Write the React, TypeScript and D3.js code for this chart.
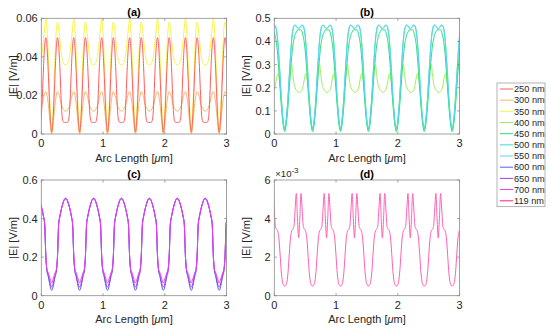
import * as d3 from 'd3';
import React from 'react';

// pattern repeats along the arc; values read over one period,
// 24 samples starting at a deep trough
const period = 0.452;
const firstTrough = 0.168;
const samplesPerPeriod = 24;

const arcTicks = [0, 1, 2, 3];

// (a)
const e250 = [0.001, 0.006, 0.018, 0.033, 0.045, 0.05, 0.046, 0.035, 0.02, 0.009, 0.0063, 0.006,
  0.006, 0.006, 0.0063, 0.009, 0.02, 0.035, 0.046, 0.05, 0.045, 0.033, 0.018, 0.006];
const e300 = [0.0, 0.004, 0.01, 0.016, 0.02, 0.022, 0.021, 0.019, 0.016, 0.014, 0.013, 0.012,
  0.012, 0.012, 0.013, 0.014, 0.016, 0.019, 0.021, 0.022, 0.02, 0.016, 0.01, 0.004];
const e350 = [0.001, 0.008, 0.024, 0.042, 0.054, 0.058, 0.055, 0.049, 0.043, 0.039, 0.037, 0.036,
  0.036, 0.036, 0.037, 0.039, 0.043, 0.049, 0.055, 0.06, 0.054, 0.042, 0.024, 0.008];
// (b)
const e400 = [0.02, 0.05, 0.1, 0.17, 0.24, 0.29, 0.3, 0.26, 0.22, 0.2, 0.19, 0.185,
  0.18, 0.18, 0.185, 0.19, 0.21, 0.24, 0.26, 0.25, 0.21, 0.15, 0.09, 0.04];
const e450 = [0.01, 0.03, 0.07, 0.13, 0.2, 0.27, 0.33, 0.38, 0.41, 0.43, 0.44, 0.45,
  0.45, 0.45, 0.45, 0.44, 0.42, 0.39, 0.34, 0.27, 0.2, 0.13, 0.07, 0.03];
const e500 = [0.02, 0.04, 0.09, 0.16, 0.25, 0.33, 0.4, 0.445, 0.465, 0.47, 0.465, 0.458,
  0.455, 0.458, 0.465, 0.47, 0.465, 0.445, 0.4, 0.33, 0.25, 0.16, 0.09, 0.04];
const e550 = [0.025, 0.045, 0.1, 0.17, 0.26, 0.34, 0.41, 0.45, 0.468, 0.472, 0.468, 0.46,
  0.457, 0.46, 0.468, 0.472, 0.468, 0.45, 0.41, 0.34, 0.26, 0.17, 0.1, 0.045];
// (c)
const e600 = [0.028, 0.04, 0.07, 0.1, 0.125, 0.2, 0.37, 0.41, 0.44, 0.465, 0.485, 0.5,
  0.505, 0.5, 0.485, 0.465, 0.44, 0.41, 0.37, 0.2, 0.125, 0.1, 0.07, 0.04];
const e650 = [0.045, 0.055, 0.08, 0.11, 0.13, 0.2, 0.37, 0.41, 0.44, 0.465, 0.485, 0.5,
  0.505, 0.5, 0.485, 0.465, 0.44, 0.41, 0.37, 0.2, 0.13, 0.11, 0.08, 0.055];
const e700 = [0.065, 0.08, 0.1, 0.12, 0.135, 0.21, 0.37, 0.41, 0.44, 0.465, 0.485, 0.5,
  0.5, 0.5, 0.485, 0.465, 0.44, 0.41, 0.37, 0.21, 0.135, 0.12, 0.1, 0.08];
// (d), in units of 1e-3
const e119 = [0.5, 0.55, 0.75, 1.3, 2.2, 3.0, 3.35, 3.45, 3.6, 4.5, 5.3, 4.0,
  3.0, 4.0, 5.3, 4.5, 3.6, 3.45, 3.35, 3.0, 2.2, 1.3, 0.75, 0.55];

const legendNames = ['250 nm', '300 nm', '350 nm', '400 nm', '450 nm', '500 nm',
  '550 nm', '600 nm', '650 nm', '700 nm', '119 nm'];
const colors = ['#ff5c5c', '#ffb36b', '#f5f545', '#9cef5a', '#2fdc77', '#2fe2c8',
  '#5fd3f2', '#4f63f2', '#9a3cf0', '#f03cf0', '#ff5fb4'];

const panels = [
  { title: '(a)', left: 41.3, top: 18.3, yMax: 0.06, yTicks: [0, 0.02, 0.04, 0.06],
    series: [[e300, 1], [e350, 2], [e250, 0]] },
  { title: '(b)', left: 274.3, top: 18.3, yMax: 0.5, yTicks: [0, 0.1, 0.2, 0.3, 0.4, 0.5],
    series: [[e400, 3], [e450, 4], [e500, 5], [e550, 6]] },
  { title: '(c)', left: 41.3, top: 180, yMax: 0.6, yTicks: [0, 0.2, 0.4, 0.6],
    series: [[e600, 7], [e650, 8], [e700, 9]] },
  { title: '(d)', left: 274.3, top: 180, yMax: 6, yTicks: [0, 2, 4, 6], exponent: true,
    series: [[e119, 10]] },
];

const plotW = 185.3;
const plotH = 115.7;
const font = 'Liberation Sans, Arial, Helvetica, sans-serif';
const textColor = '#262626';
const axisColor = '#8a8a8a';

function tile(profile: number[]) {
  const pts: [number, number][] = [];
  for (let k = -1; k <= 7; k++) {
    profile.forEach((v, i) => {
      pts.push([firstTrough + (k + i / samplesPerPeriod) * period, v]);
    });
  }
  return pts;
}

function Panel({ p, idx }: { p: any; idx: number }) {
  const x = d3.scaleLinear().domain([0, 3]).range([p.left, p.left + plotW]);
  const y = d3.scaleLinear().domain([0, p.yMax]).range([p.top + plotH, p.top]);
  const line = d3
    .line<[number, number]>()
    .x(d => x(d[0]))
    .y(d => y(d[1]))
    .curve(d3.curveMonotoneX);
  const clipId = `clip-${idx}`;
  const tl = 2.5;
  const fmt = (v: number) => (v === 0 ? '0' : String(v));
  const bottom = p.top + plotH;
  const right = p.left + plotW;

  return (
    <g>
      <defs>
        <clipPath id={clipId}>
          <rect x={p.left} y={p.top} width={plotW} height={plotH} />
        </clipPath>
      </defs>
      <rect x={p.left} y={p.top} width={plotW} height={plotH} fill="#fff" />
      <g clipPath={`url(#${clipId})`}>
        {p.series.map(([vals, ci]: [number[], number], j: number) => (
          <path key={j} d={line(tile(vals)) ?? ''} fill="none" stroke={colors[ci]} strokeWidth={1} />
        ))}
      </g>
      <rect x={p.left} y={p.top} width={plotW} height={plotH} fill="none" stroke={axisColor} strokeWidth={0.8} />
      {arcTicks.map(t => (
        <g key={'x' + t}>
          <line x1={x(t)} x2={x(t)} y1={bottom} y2={bottom - tl} stroke={axisColor} strokeWidth={0.8} />
          <line x1={x(t)} x2={x(t)} y1={p.top} y2={p.top + tl} stroke={axisColor} strokeWidth={0.8} />
          <text x={x(t)} y={bottom + 13.3} textAnchor="middle" fontSize={11} fontFamily={font} fill={textColor}>
            {t}
          </text>
        </g>
      ))}
      {p.yTicks.map((t: number) => (
        <g key={'y' + t}>
          <line x1={p.left} x2={p.left + tl} y1={y(t)} y2={y(t)} stroke={axisColor} strokeWidth={0.8} />
          <line x1={right} x2={right - tl} y1={y(t)} y2={y(t)} stroke={axisColor} strokeWidth={0.8} />
          <text x={p.left - 3.6} y={y(t) + 4} textAnchor="end" fontSize={11} fontFamily={font} fill={textColor}>
            {fmt(t)}
          </text>
        </g>
      ))}
      <text x={p.left + plotW / 2} y={p.top - 2.5} textAnchor="middle" fontSize={11} fontWeight="bold" fontFamily={font} fill="#000">
        {p.title}
      </text>
      <text x={p.left + plotW / 2} y={bottom + 27.5} textAnchor="middle" fontSize={11} fontFamily={font} fill={textColor}>
        Arc Length [<tspan fontStyle="italic">μ</tspan>m]
      </text>
      <text
        transform={`translate(${p.left - 24.5},${p.top + plotH / 2}) rotate(-90)`}
        textAnchor="middle"
        fontSize={11}
        fontFamily={font}
        fill={textColor}
      >
        |E| [V/m]
      </text>
      {p.exponent && (
        <text x={p.left + 1} y={p.top - 3} fontSize={9.5} fontFamily={font} fill={textColor}>
          ×10<tspan fontSize={8} dy={-4}>-3</tspan>
        </text>
      )}
    </g>
  );
}

function Legend() {
  const left = 497;
  const top = 83;
  const w = 48;
  const rowH = 11.17;
  return (
    <g>
      <rect x={left} y={top} width={w} height={rowH * legendNames.length + 0.8} fill="#fff" stroke="#a0a0a0" strokeWidth={0.8} />
      {legendNames.map((n, i) => {
        const cy = top + 6 + i * rowH;
        return (
          <g key={n}>
            <line x1={left + 3} x2={left + 16} y1={cy} y2={cy} stroke={colors[i]} strokeWidth={i === 10 ? 1.5 : 1} />
            <text x={left + 17} y={cy + 3.3} fontSize={9.2} fontFamily={font} fill={textColor}>
              {n}
            </text>
          </g>
        );
      })}
    </g>
  );
}

export default function App() {
  return (
    <svg width={550} height={331} style={{ position: 'absolute', left: 0, top: 0, background: '#fff' }}>
      <rect width={550} height={331} fill="#fff" />
      {panels.map((p, i) => (
        <Panel key={p.title} p={p} idx={i} />
      ))}
      <Legend />
    </svg>
  );
}
